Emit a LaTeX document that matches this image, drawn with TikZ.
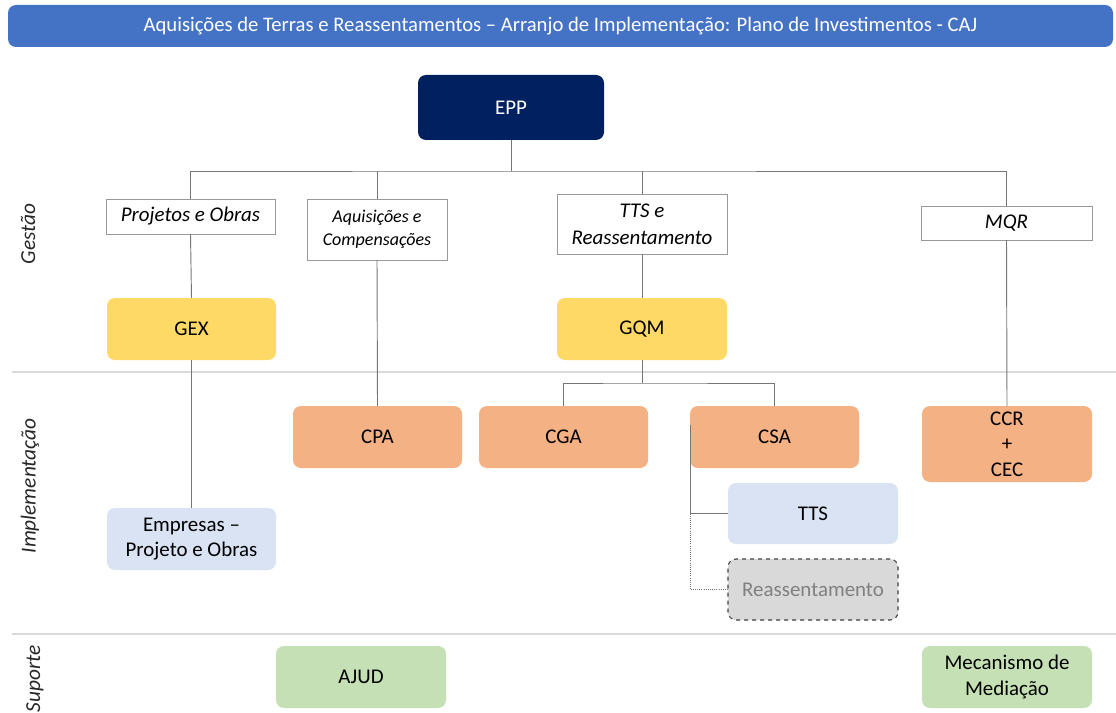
\documentclass[tikz,border=0pt]{standalone}
\usepackage{fontspec}
\setmainfont{Carlito}
\usetikzlibrary{calc}
\definecolor{titleblue}{HTML}{4472C4}
\definecolor{navy}{HTML}{002060}
\definecolor{yel}{HTML}{FFD966}
\definecolor{ora}{HTML}{F4B183}
\definecolor{lblue}{HTML}{DAE3F3}
\definecolor{lgray}{HTML}{D9D9D9}
\definecolor{grn}{HTML}{C5E0B4}
\definecolor{conncol}{HTML}{767676}
\definecolor{sepcol}{HTML}{D9D9D9}
\newcommand\bx[7]{\node[#6, minimum width={(#4-#2)*0.75pt}, minimum height={(#5-#3)*0.75pt}] (#1) at ({(#2+#4)/2},{(#3+#5)/2}) {#7};}
\tikzset{
  base/.style={inner sep=0pt, outer sep=0pt, align=center, font=\fontsize{15.7}{19}\selectfont, text=black},
  rbox/.style={base, rounded corners=6pt},
  navybox/.style={rbox, fill=navy, text=white},
  yelbox/.style={rbox, fill=yel},
  orabox/.style={rbox, fill=ora},
  bluebox/.style={rbox, fill=lblue},
  greybox/.style={rbox, fill=lgray, draw=black!75, dashed, line width=0.8pt, text=black!50},
  grnbox/.style={rbox, fill=grn},
  lab/.style={base, draw=black!40, line width=0.6pt, font=\fontsize{15.7}{20}\selectfont\itshape},
  labs/.style={lab, font=\fontsize{13.5}{17}\selectfont\itshape},
  conn/.style={draw=conncol, line width=0.7pt},
  dconn/.style={draw=conncol, line width=0.6pt, densely dotted},
  sep/.style={draw=sepcol, line width=0.8pt},
  side/.style={rotate=90, font=\fontsize{16}{18}\selectfont\itshape, text=black!85, inner sep=0pt},
}
\begin{document}
\begin{tikzpicture}[x=0.75pt, y=-0.75pt]
\useasboundingbox (0,0) rectangle (1116,713);
% title
\bx{title}{8}{5}{1113}{47}{rbox, fill=titleblue, text=white, font=\fontsize{15.5}{18}\selectfont}{Aquisições de Terras e Reassentamentos – Arranjo de Implementação: Plano de Investimentos - CAJ}
% separators
\draw[sep] (12,372) -- (1116,372);
\draw[sep] (12,634) -- (1116,634);
% side labels
\node[side] (sg) at (28,234) {Gestão};
\node[side] (si) at (30,486) {Implementação};
\node[side] (ss) at (35,679) {Suporte};
% boxes
\bx{epp}{418}{75}{604}{140}{navybox}{EPP}
\bx{proj}{106}{199}{275}{234}{lab}{Projetos e Obras}
\bx{acq}{307}{199}{447}{260}{labs}{Aquisições e\\Compensações}
\bx{ttsr}{557}{194}{727}{254}{lab}{TTS e\\Reassentamento}
\bx{mqr}{921}{206}{1092}{240}{lab}{MQR}
\bx{gex}{107}{298}{276}{360}{yelbox}{GEX}
\bx{gqm}{557}{298}{727}{360}{yelbox}{GQM}
\bx{cpa}{293}{406}{462}{468}{orabox}{CPA}
\bx{cga}{479}{406}{648}{468}{orabox}{CGA}
\bx{csa}{690}{406}{859}{468}{orabox}{CSA}
\bx{ccr}{922}{406}{1092}{482}{orabox}{CCR\\+\\CEC}
\bx{tts}{728}{483}{898}{544}{bluebox}{TTS}
\bx{reass}{728}{559}{898}{620}{greybox}{Reassentamento}
\bx{emp}{107}{508}{276}{570}{bluebox}{Empresas –\\Projeto e Obras}
\bx{ajud}{276}{646}{446}{708}{grnbox}{AJUD}
\bx{med}{922}{646}{1092}{708}{grnbox}{Mecanismo de\\Mediação}
% connectors
\coordinate (bus) at (511,171);
\draw[conn] (epp.south) -- (bus);
\draw[conn] (proj.north) |- (bus) -| (mqr.north);
\draw[conn] (acq.north) -- (acq.north |- bus);
\draw[conn] (ttsr.north) -- (ttsr.north |- bus);
\draw[conn] (proj.south) -- (gex.north);
\draw[conn] (gex.south) -- (emp.north);
\draw[conn] (acq.south) -- (cpa.north);
\draw[conn] (ttsr.south) -- (gqm.north);
\coordinate (bus2) at (642,383);
\draw[conn] (gqm.south) -- (bus2);
\draw[conn] (cga.north) |- (bus2) -| (csa.north);
\draw[conn] (mqr.south) -- (ccr.north);
\draw[conn] ([yshift=-14pt]csa.north west) |- (tts.west);
\draw[dconn] (tts.west -| csa.west) |- (reass.west);
\end{tikzpicture}
\end{document}
